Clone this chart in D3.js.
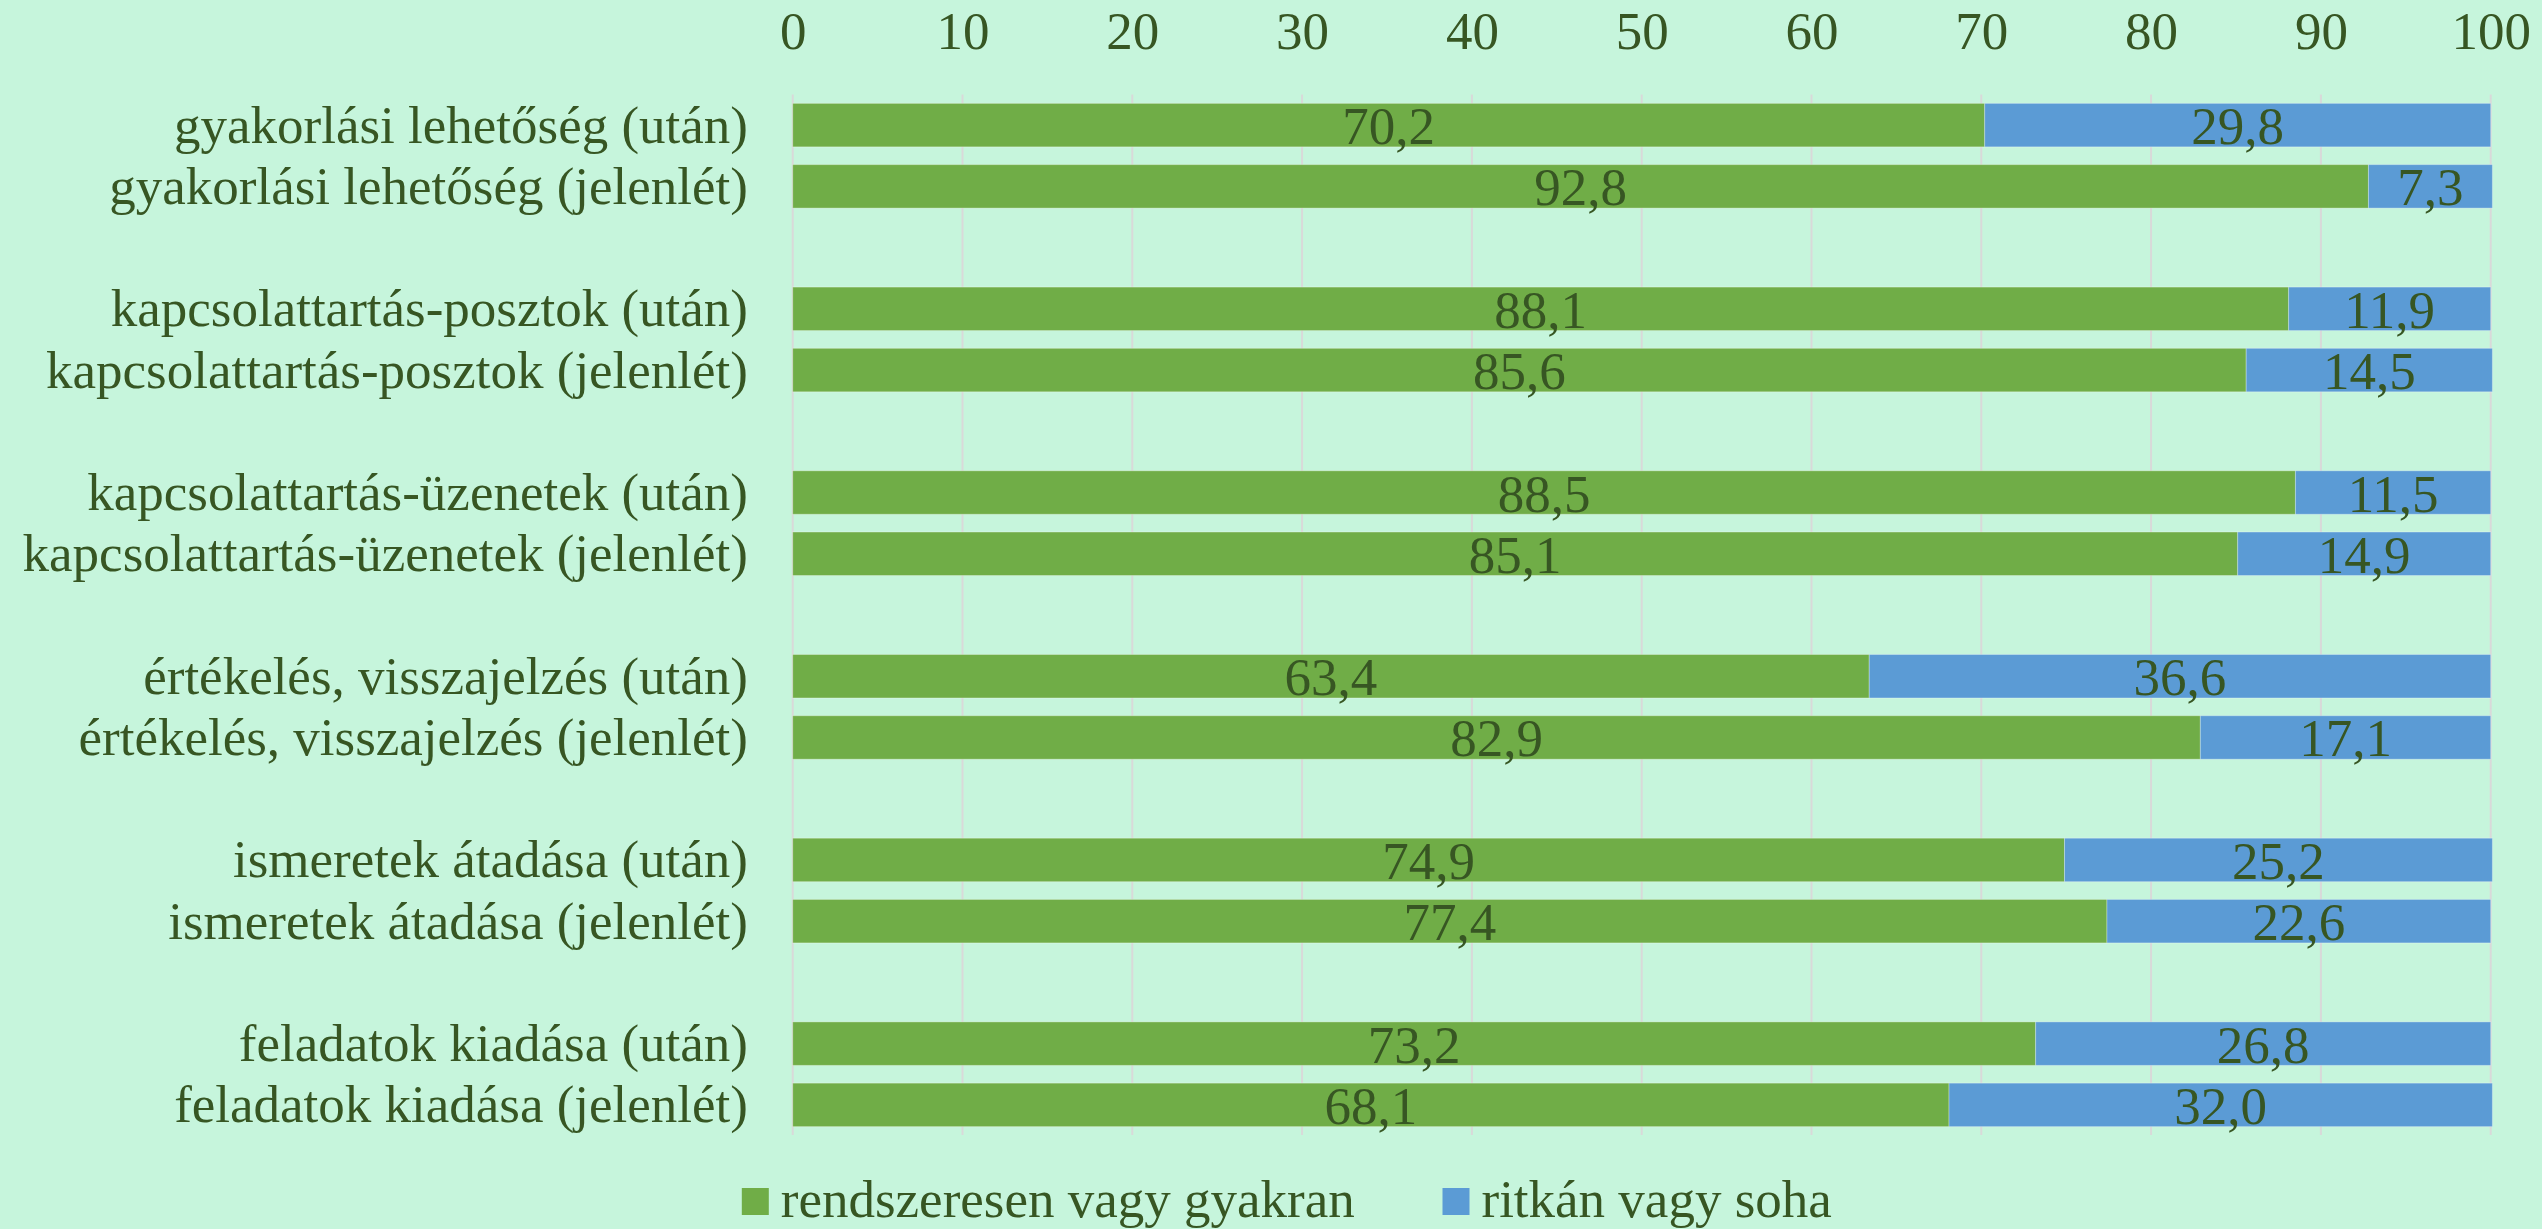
<!DOCTYPE html>
<html>
<head>
<meta charset="utf-8">
<script src="https://cdn.jsdelivr.net/npm/d3@7/dist/d3.min.js"></script>
<style>
  html, body { margin: 0; padding: 0; background: #c6f5dc; }
  svg { display: block; }
</style>
</head>
<body>
<svg id="chart" width="2542" height="1229"></svg>
<script>
// ---- data ----
const categories = [
  "gyakorlási lehetőség (után)",
  "gyakorlási lehetőség (jelenlét)",
  "kapcsolattartás-posztok (után)",
  "kapcsolattartás-posztok (jelenlét)",
  "kapcsolattartás-üzenetek (után)",
  "kapcsolattartás-üzenetek (jelenlét)",
  "értékelés, visszajelzés (után)",
  "értékelés, visszajelzés (jelenlét)",
  "ismeretek átadása (után)",
  "ismeretek átadása (jelenlét)",
  "feladatok kiadása (után)",
  "feladatok kiadása (jelenlét)"
];
const seriesNames = ["rendszeresen vagy gyakran", "ritkán vagy soha"];
const frequent = [70.2, 92.8, 88.1, 85.6, 88.5, 85.1, 63.4, 82.9, 74.9, 77.4, 73.2, 68.1];
const rare     = [29.8, 7.3, 11.9, 14.5, 11.5, 14.9, 36.6, 17.1, 25.2, 22.6, 26.8, 32.0];
const xTicks = [0, 10, 20, 30, 40, 50, 60, 70, 80, 90, 100];

const colors = ["#70ad47", "#5b9bd5"];
const textColor = "#375623";
const FONT = "'Liberation Serif', Tinos, 'Times New Roman', Times, serif";

// slot keys: 2 bars per group, blank slot between groups
const slots = [];
categories.forEach((c, i) => {
  slots.push(c);
  if (i % 2 === 1 && i < categories.length - 1) slots.push("__gap" + i);
});

const svg = d3.select("#chart").style("font-family", FONT);
const fontSize = 53;

const x = d3.scaleLinear().domain([0, 100]).range([792.7, 2490.7]);
const y = d3.scaleBand().domain(slots).range([94.5, 1135.5]).paddingInner(0.29).paddingOuter(0.145);

// gridlines
svg.append("g")
  .selectAll("line")
  .data(xTicks)
  .join("line")
  .attr("x1", d => x(d)).attr("x2", d => x(d))
  .attr("y1", 94.5).attr("y2", 1135)
  .attr("stroke", "#d9d9d9").attr("stroke-width", 2);

// top axis labels
const xAxis = d3.axisTop(x).tickValues(xTicks).tickSize(0).tickPadding(0).tickFormat(d3.format("d"));
const gx = svg.append("g").attr("transform", "translate(0,49)").call(xAxis)
  .attr("font-family", null).attr("font-size", null);
gx.select(".domain").remove();
gx.selectAll("text")
  .style("font-family", FONT)
  .attr("font-size", fontSize).attr("fill", textColor)
  .attr("dy", 0).attr("y", 0);

// stacked data
const rows = categories.map((c, i) => ({ cat: c, values: [frequent[i], rare[i]] }));
const stackData = rows.map(r => {
  let acc = 0;
  return r.values.map((v, k) => { const s = { cat: r.cat, k, v, x0: acc, x1: acc + v }; acc += v; return s; });
}).flat();

svg.append("g")
  .selectAll("rect")
  .data(stackData)
  .join("rect")
  .attr("x", d => x(d.x0))
  .attr("width", d => x(d.x1) - x(d.x0))
  .attr("y", d => y(d.cat))
  .attr("height", y.bandwidth())
  .attr("fill", d => colors[d.k])
  .attr("stroke", "rgba(255,255,255,0.3)")
  .attr("stroke-width", 1);

// value labels
const fmt = v => v.toFixed(1).replace(".", ",");
svg.append("g")
  .selectAll("text")
  .data(stackData)
  .join("text")
  .style("font-family", FONT)
  .attr("fill", textColor)
  .attr("x", d => (x(d.x0) + x(d.x1)) / 2)
  .attr("y", d => y(d.cat) + y.bandwidth() / 2 + 19)
  .attr("text-anchor", "middle")
  .attr("font-size", fontSize)
  .text(d => fmt(d.v));

// category labels (left axis)
const yAxis = d3.axisLeft(y).tickValues(categories).tickSize(0).tickPadding(0);
const gy = svg.append("g").attr("transform", "translate(748,0)").call(yAxis)
  .attr("font-family", null).attr("font-size", null);
gy.select(".domain").remove();
gy.selectAll("text")
  .style("font-family", FONT)
  .attr("font-size", fontSize).attr("fill", textColor)
  .attr("dy", 0).attr("x", 0)
  .attr("y", 17.5);

// legend
const legendX = [741.8, 1442.5];
const legend = svg.append("g");
seriesNames.forEach((name, i) => {
  legend.append("rect")
    .attr("x", legendX[i]).attr("y", 1188)
    .attr("width", 27).attr("height", 27)
    .attr("fill", colors[i]);
  legend.append("text")
    .style("font-family", FONT)
    .attr("fill", textColor)
    .attr("x", legendX[i] + 39).attr("y", 1217)
    .attr("font-size", fontSize)
    .text(name);
});
</script>
</body>
</html>
